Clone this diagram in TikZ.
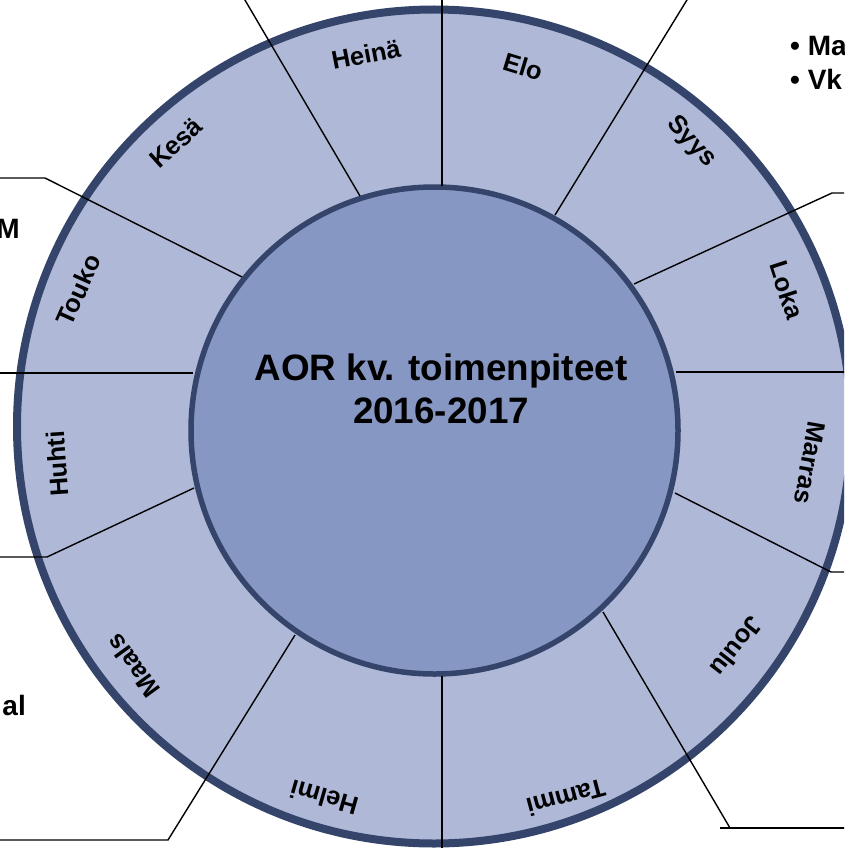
\documentclass[tikz,border=0pt]{standalone}
\usepackage{fontspec}
\setmainfont{Liberation Sans}
\definecolor{ringfill}{HTML}{AFB9D7}
\definecolor{corefill}{HTML}{8797C3}
\definecolor{rimcol}{HTML}{35446B}
\begin{document}
\begin{tikzpicture}[x=1pt,y=-1pt,
  month/.style={font=\fontsize{25.5}{30}\selectfont\bfseries, inner sep=0pt, text=black},
  title/.style={font=\fontsize{36.8}{43}\selectfont\bfseries, inner sep=0pt, anchor=base},
  side/.style={font=\fontsize{28}{33}\selectfont\bfseries, inner sep=0pt},
  conn/.style={line width=1.4pt, black}]
\useasboundingbox (0,0) rectangle (844,848);
\clip (0,0) rectangle (844,848);
\fill[white] (0,0) rectangle (844,848);
% circles
\node[circle, draw=rimcol, fill=ringfill, line width=8pt, minimum size=834pt, inner sep=0pt] (ring) at (434,426.5) {};
\node[circle, draw=rimcol, fill=corefill, line width=5.5pt, minimum size=487pt, inner sep=0pt] (core) at (434.5,430.5) {};
% connector points
\coordinate (a1) at (442,186);   \coordinate (b1) at (442,-5);
\coordinate (a2) at (360,196);   \coordinate (b2) at (242,-5);
\coordinate (a3) at (555,215);   \coordinate (b3) at (690,-5);
\coordinate (a4) at (634,284);   \coordinate (e4) at (832,193);   \coordinate (b4) at (850,193);
\coordinate (a5) at (676,372);   \coordinate (b5) at (850,372);
\coordinate (a6) at (675,493);   \coordinate (e6) at (831,572);   \coordinate (b6) at (850,572);
\coordinate (a7) at (603,612);   \coordinate (e7) at (730,828);   \coordinate (s7) at (720,828); \coordinate (b7) at (850,828);
\coordinate (a8) at (442,676);   \coordinate (b8) at (442,853);
\coordinate (a9) at (295,635);   \coordinate (e9) at (168,840);   \coordinate (b9) at (-5,840);
\coordinate (a10) at (194,488);  \coordinate (e10) at (47,557);   \coordinate (b10) at (-5,557);
\coordinate (a11) at (193,373);  \coordinate (b11) at (-5,373);
\coordinate (a12) at (242,277);  \coordinate (e12) at (45,178);   \coordinate (b12) at (-5,178);
\draw[conn] (a1) -- (b1);
\draw[conn] (a2) -- (b2);
\draw[conn] (a3) -- (b3);
\draw[conn] (a4) -- (e4) -- (b4);
\draw[conn] (a5) -- (b5);
\draw[conn] (a6) -- (e6) -- (b6);
\draw[conn] (a7) -- (e7); \draw[conn] (s7) -- (b7);
\draw[conn] (a8) -- (b8);
\draw[conn] (a9) -- (e9) -- (b9);
\draw[conn] (a10) -- (e10) -- (b10);
\draw[conn] (a11) -- (b11);
\draw[conn] (a12) -- (e12) -- (b12);
% month labels
\node[month, rotate=11]   (heina)  at (366,54)  {Heinä};
\node[month, rotate=-17]  (elo)    at (523,67)  {Elo};
\node[month, rotate=-47]  (syys)   at (691,142) {Syys};
\node[month, rotate=-72]  (loka)   at (787,290) {Loka};
\node[month, rotate=-100] (marras) at (810,463) {Marras};
\node[month, rotate=-128] (joulu)  at (737,647) {Joulu};
\node[month, rotate=-165] (tammi)  at (566,798) {Tammi};
\node[month, rotate=164]  (helmi)  at (324,798) {Helmi};
\node[month, rotate=126]  (maals)  at (133,666) {Maals};
\node[month, rotate=94]   (huhti)  at (57,464)  {Huhti};
\node[month, rotate=66]   (touko)  at (78,290)  {Touko};
\node[month, rotate=42]   (kesa)   at (176,143) {Kesä};
% centre title
\node[title] (t1) at (441,380) {AOR kv. toimenpiteet};
\node[title] (t2) at (441,423) {2016-2017};
% side texts (cut by the page edge, as in the reference)
\node[side, anchor=base east] (sm) at (20,238) {M};
\node[side, anchor=base east] (sal) at (26,715) {al};
\node[side, anchor=base west] (sma) at (790,56) {• Ma};
\node[side, anchor=base west] (svk) at (790,90) {• Vk};
\end{tikzpicture}
\end{document}
